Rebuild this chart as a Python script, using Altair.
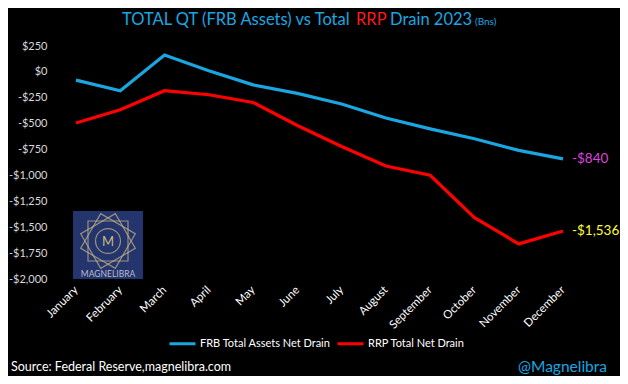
import altair as alt
import pandas as pd

months = ["January", "February", "March", "April", "May", "June", "July",
          "August", "September", "October", "November", "December"]
frb = [-80, -182, 163, 10, -125, -208, -310, -445, -550, -646, -758, -840]
rrp = [-493, -365, -182, -221, -295, -518, -720, -909, -998, -1408, -1661, -1536]
series_names = ["FRB Total Assets Net Drain", "RRP Total Net Drain"]
y_ticks = [250, 0, -250, -500, -750, -1000, -1250, -1500, -1750, -2000]

title_parts = ["TOTAL QT (FRB Assets) vs Total", "RRP", "Drain 2023", "(Bns)"]
source_text = "Source: Federal Reserve,magnelibra.com"
handle_text = "@Magnelibra"
logo_text = "MAGNELIBRA"

FONT = "Lato"
BLUE = "#1aa7e1"
RED = "#ff0000"

rows = []
for m, a, b in zip(months, frb, rrp):
    rows.append({"month": m, "series": series_names[0], "value": a})
    rows.append({"month": m, "series": series_names[1], "value": b})
df = pd.DataFrame(rows)

W, H = 487, 233

x_enc = alt.X("month:N", sort=months, title=None,
              scale=alt.Scale(type="point", padding=0),
              axis=alt.Axis(labelAngle=-45, labelAlign="right", labelBaseline="middle",
                            labelPadding=9, domain=False, ticks=False, tickSize=0,
                            labelColor="#ffffff", labelFontSize=11.5, labelFont=FONT,
                            grid=False, labelOverlap=False))
y_enc = alt.Y("value:Q", title=None,
              scale=alt.Scale(domain=[-2000, 250], nice=False, zero=False),
              axis=alt.Axis(values=y_ticks, domain=False, ticks=False, tickSize=0,
                            grid=False, labelPadding=29, labelColor="#d9d9d9",
                            labelFontSize=11, labelFont=FONT, labelOverlap=False,
                            labelExpr="datum.value < 0 ? '-$' + format(-datum.value, ',') : '$' + format(datum.value, ',')"))

lines = alt.Chart(df).mark_line(strokeWidth=3.2).encode(
    x=x_enc, y=y_enc,
    color=alt.Color("series:N", sort=series_names,
                    scale=alt.Scale(domain=series_names, range=[BLUE, RED]),
                    legend=alt.Legend(title=None, orient="none", legendX=92, legendY=283,
                                      direction="horizontal", symbolType="stroke",
                                      symbolSize=676, symbolStrokeWidth=3,
                                      labelColor="#ffffff", labelFontSize=11,
                                      labelFont=FONT, labelOffset=3, columnPadding=0))
)

def end_label(series, color):
    return alt.Chart(df).transform_filter(
        (alt.datum.month == "December") & (alt.datum.series == series)
    ).transform_calculate(
        lab="'-$' + format(-datum.value, ',')"
    ).mark_text(align="left", baseline="middle", dx=9, fontSize=13.5, font=FONT,
                color=color).encode(x=x_enc, y=y_enc, text="lab:N")

end_labels = [end_label(series_names[0], "#dd44dd"), end_label(series_names[1], "#ffff33")]

one = pd.DataFrame({"k": [0]})

def txt(text, x, y, size, color, align="left", weight="normal"):
    return alt.Chart(one).mark_text(text=text, align=align, baseline="middle",
                                    fontSize=size, font=FONT, color=color,
                                    fontWeight=weight).encode(
        x=alt.value(x), y=alt.value(y))

# page coords -> plot coords: (px - 76, py - 46)
title_layers = [
    txt(title_parts[0], 122 - 76, 20 - 46, 16.5, BLUE),
    txt(title_parts[1], 356 - 76, 20 - 46, 16.5, "#ff1a1a"),
    txt(title_parts[2], 390 - 76, 20 - 46, 16.5, BLUE),
    txt(title_parts[3], 475 - 76, 22 - 46, 10, BLUE),
]

footer = [
    txt(source_text, 11 - 76, 367 - 46, 12.5, "#ffffff"),
    txt(handle_text, 518 - 76, 367 - 46, 15.5, BLUE),
]

# logo (decorative)
logo_bg = alt.Chart(one).mark_rect(color="#24346c").encode(
    x=alt.value(73 - 76), x2=alt.value(143 - 76),
    y=alt.value(211 - 46), y2=alt.value(279 - 46))
cx, cy = 108 - 76, 241 - 46
logo_parts = [logo_bg]
for ang in [0, 30, 60]:
    logo_parts.append(alt.Chart(one).mark_point(
        shape="square", size=1600, angle=ang, filled=False,
        stroke="#cdb98a", strokeWidth=1.2).encode(x=alt.value(cx), y=alt.value(cy)))
logo_parts.append(alt.Chart(one).mark_point(
    shape="circle", size=620, filled=True, fill="#24346c",
    stroke="#cdb98a", strokeWidth=1.2).encode(x=alt.value(cx), y=alt.value(cy)))
logo_parts.append(txt("M", cx, cy + 1, 13, "#cdb98a", align="center"))
logo_parts.append(txt(logo_text, cx, 274 - 46, 8.5, "#b8bccc", align="center"))

chart = alt.layer(
    *logo_parts, lines, *end_labels, *title_layers, *footer
).properties(
    width=W, height=H,
    background="#000000",
    padding={"left": 68, "top": 38, "right": 57, "bottom": 97},
    autosize=alt.AutoSizeParams(type="none"),
).configure_view(stroke=None, fill="#000000")

chart.save("out.html", embed_options={"renderer": "svg", "actions": False})
